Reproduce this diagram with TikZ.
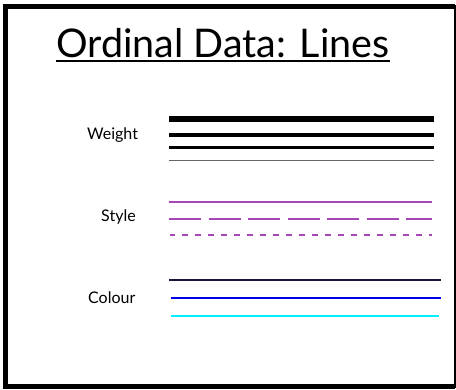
\documentclass[tikz,border=0pt]{standalone}
\usepackage{fontspec}
\setmainfont{Lato}
\begin{document}
\begin{tikzpicture}[x=1pt,y=-1pt,
  lbl/.style={anchor=base west,inner sep=0pt,font=\fontsize{16}{18}\selectfont},
  wline/.style={line cap=butt},
  sline/.style={line width=2.3pt,color=stylepurple},
  cline/.style={line width=2.3pt}]
\definecolor{stylepurple}{RGB}{165,72,182}
\definecolor{darknavy}{RGB}{22,22,58}
\definecolor{brightblue}{RGB}{0,0,235}
\definecolor{brightcyan}{RGB}{0,240,255}
\useasboundingbox (0,0) rectangle (456,389);
% frame
\draw[line width=4.5pt] (455,6.5) -- (5.3,6.5) -- (5.3,386.5) -- (455,386.5);
\draw[line width=1.5pt] (455.2,5) -- (455.2,388);
% title
\node[anchor=base west,inner sep=0pt,font=\fontsize{39.5}{44}\selectfont] (title) at (56,57) {Ordinal Data: Lines};
\draw[line width=1.5pt] ([yshift=-4pt]title.base west) -- ([yshift=-4pt]title.base east);
% labels
\node[lbl] (weight) at (87,139) {Weight};
\node[lbl] (style) at (101,221) {Style};
\node[lbl] (colour) at (88,303) {Colour};
% weight lines
\draw[wline,line width=6pt] (169,118.8) -- (434,118.8);
\draw[wline,line width=4pt] (169,134.5) -- (434,134.5);
\draw[wline,line width=2.7pt] (169,147.8) -- (434,147.8);
\draw[wline,line width=1.3pt,color=black!60] (169,160.8) -- (434,160.8);
% style lines
\draw[sline] (169,201.7) -- (432,201.7);
\draw[sline,dash pattern=on 32pt off 7.5pt] (169,219) -- (432,219);
\draw[sline,dash pattern=on 6pt off 7pt,dash phase=1.3pt] (170,235) -- (432,235);
% colour lines
\draw[cline,color=darknavy] (169,280.3) -- (441,280.3);
\draw[cline,color=brightblue] (170.5,298.3) -- (441,298.3);
\draw[cline,color=brightcyan] (170.5,316.3) -- (439,316.3);
\end{tikzpicture}
\end{document}
